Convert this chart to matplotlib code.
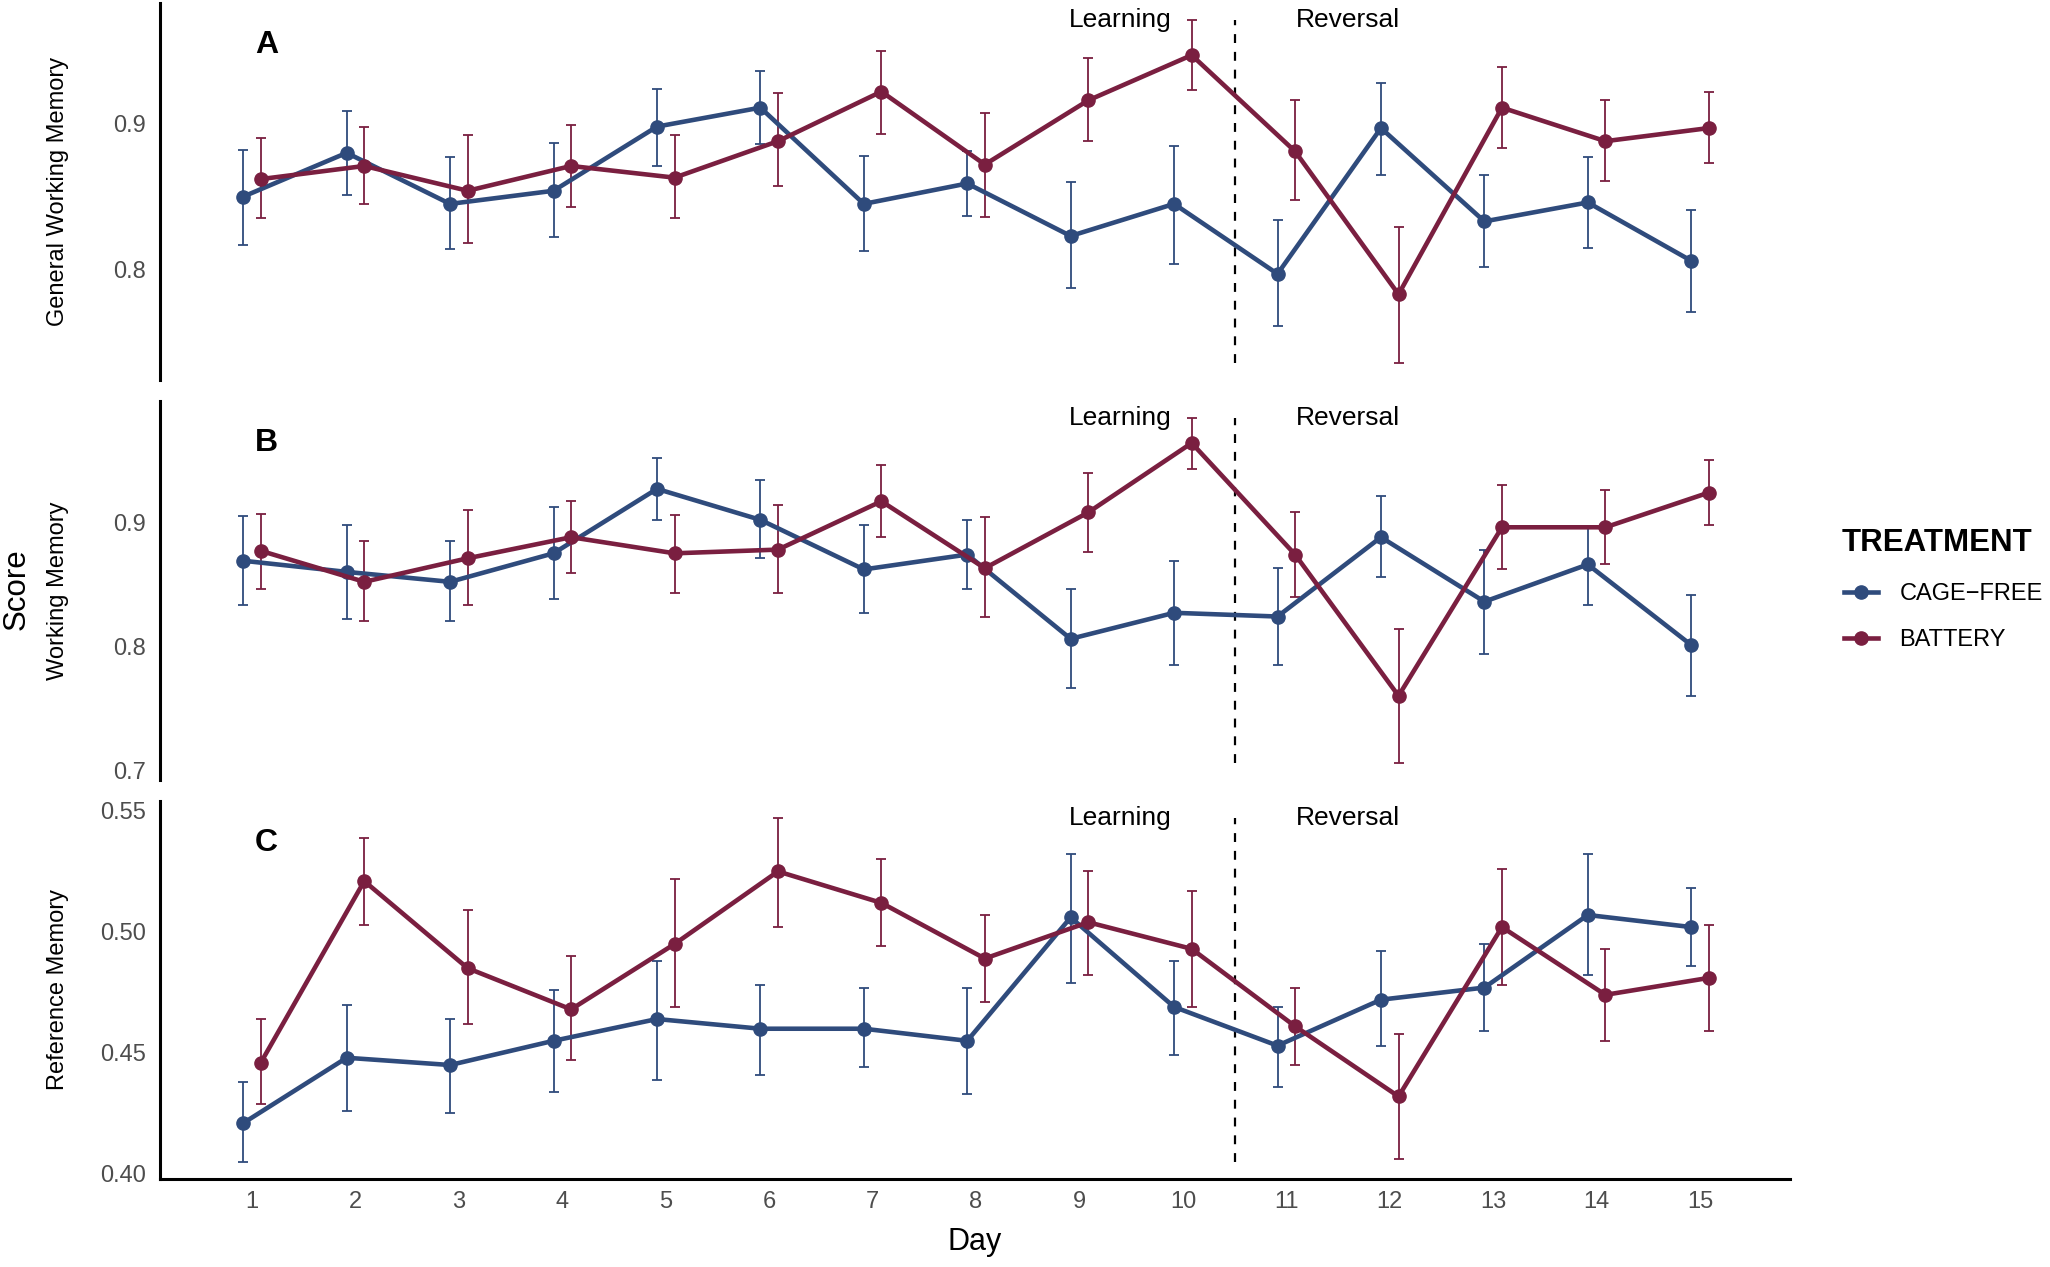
import matplotlib
matplotlib.use("Agg")
import matplotlib.pyplot as plt
import matplotlib.transforms as mtransforms
from matplotlib.lines import Line2D
import numpy as np

plt.rcParams['font.family'] = ['Liberation Sans', 'DejaVu Sans']

days = np.arange(1, 16)
groups = ["CAGE\u2212FREE", "BATTERY"]
colors = ["#2F4B7C", "#7A1F40"]

# Panel A: general working memory (mean, upper, lower)
gwm_cage = [0.850, 0.880, 0.845, 0.854, 0.898, 0.911, 0.845, 0.859, 0.823, 0.845, 0.797, 0.897, 0.833, 0.846, 0.806]
gwm_cage_hi = [0.882, 0.909, 0.877, 0.887, 0.924, 0.936, 0.878, 0.881, 0.860, 0.885, 0.834, 0.928, 0.865, 0.877, 0.841]
gwm_cage_lo = [0.817, 0.851, 0.814, 0.822, 0.871, 0.886, 0.813, 0.837, 0.787, 0.804, 0.761, 0.865, 0.802, 0.815, 0.771]
gwm_batt = [0.862, 0.871, 0.854, 0.871, 0.863, 0.888, 0.922, 0.872, 0.916, 0.947, 0.881, 0.783, 0.911, 0.888, 0.897]
gwm_batt_hi = [0.890, 0.898, 0.892, 0.899, 0.892, 0.921, 0.950, 0.907, 0.945, 0.971, 0.916, 0.829, 0.939, 0.916, 0.922]
gwm_batt_lo = [0.835, 0.845, 0.818, 0.843, 0.835, 0.857, 0.893, 0.836, 0.888, 0.923, 0.848, 0.736, 0.883, 0.861, 0.873]

# Panel B: working memory
wm_cage = [0.869, 0.860, 0.852, 0.875, 0.927, 0.902, 0.862, 0.874, 0.806, 0.827, 0.824, 0.888, 0.836, 0.866, 0.801]
wm_cage_hi = [0.905, 0.898, 0.885, 0.912, 0.952, 0.934, 0.898, 0.902, 0.846, 0.869, 0.863, 0.921, 0.878, 0.897, 0.841]
wm_cage_lo = [0.833, 0.822, 0.820, 0.838, 0.902, 0.871, 0.827, 0.846, 0.766, 0.785, 0.785, 0.856, 0.794, 0.833, 0.760]
wm_batt = [0.877, 0.852, 0.871, 0.888, 0.875, 0.878, 0.917, 0.863, 0.908, 0.964, 0.874, 0.760, 0.896, 0.896, 0.924]
wm_batt_hi = [0.907, 0.885, 0.910, 0.917, 0.906, 0.914, 0.946, 0.904, 0.940, 0.984, 0.908, 0.814, 0.930, 0.926, 0.950]
wm_batt_lo = [0.846, 0.820, 0.833, 0.859, 0.843, 0.843, 0.888, 0.824, 0.876, 0.943, 0.840, 0.706, 0.862, 0.866, 0.898]

# Panel C: reference memory
rm_cage = [0.421, 0.448, 0.445, 0.455, 0.464, 0.460, 0.460, 0.455, 0.506, 0.469, 0.453, 0.472, 0.477, 0.507, 0.502]
rm_cage_hi = [0.438, 0.470, 0.464, 0.476, 0.488, 0.478, 0.477, 0.477, 0.532, 0.488, 0.469, 0.492, 0.495, 0.532, 0.518]
rm_cage_lo = [0.405, 0.426, 0.425, 0.434, 0.439, 0.441, 0.444, 0.433, 0.479, 0.449, 0.436, 0.453, 0.459, 0.482, 0.486]
rm_batt = [0.446, 0.521, 0.485, 0.468, 0.495, 0.525, 0.512, 0.489, 0.504, 0.493, 0.461, 0.432, 0.502, 0.474, 0.481]
rm_batt_hi = [0.464, 0.539, 0.509, 0.490, 0.522, 0.547, 0.530, 0.507, 0.525, 0.517, 0.477, 0.458, 0.526, 0.493, 0.503]
rm_batt_lo = [0.429, 0.503, 0.462, 0.447, 0.469, 0.502, 0.494, 0.471, 0.482, 0.469, 0.445, 0.406, 0.478, 0.455, 0.459]

panels = [
    ("A", "General Working Memory", [0.8, 0.9], "%.1f",
     [(gwm_cage, gwm_cage_hi, gwm_cage_lo), (gwm_batt, gwm_batt_hi, gwm_batt_lo)]),
    ("B", "Working Memory", [0.7, 0.8, 0.9], "%.1f",
     [(wm_cage, wm_cage_hi, wm_cage_lo), (wm_batt, wm_batt_hi, wm_batt_lo)]),
    ("C", "Reference Memory", [0.40, 0.45, 0.50, 0.55], "%.2f",
     [(rm_cage, rm_cage_hi, rm_cage_lo), (rm_batt, rm_batt_hi, rm_batt_lo)]),
]

W, H = 2050, 1267
fig = plt.figure(figsize=(W / 100, H / 100), dpi=100)

ax_left = 160 / W
ax_width = (1790 - 160) / W
ax_rows = [(3, 380), (401, 780), (801, 1179)]
dodge = 0.085
tick_gray = "#4D4D4D"

for i, (letter, ylab, yticks, fmt, series) in enumerate(panels):
    top, bot = ax_rows[i]
    ax = fig.add_axes([ax_left, 1 - bot / H, ax_width, (bot - top) / H])

    lo_all = min(min(s[2]) for s in series)
    hi_all = max(max(s[1]) for s in series)
    pad = 0.05 * (hi_all - lo_all)

    for j, (mean, hi, lo) in enumerate(series):
        mean = np.array(mean)
        x = days + (-dodge if j == 0 else dodge)
        yerr = [mean - np.array(lo), np.array(hi) - mean]
        ax.errorbar(x, mean, yerr=yerr, fmt="none", ecolor=colors[j],
                    elinewidth=1.3, capsize=3.8, capthick=1.3, zorder=2)
    for j, (mean, hi, lo) in enumerate(series):
        x = days + (-dodge if j == 0 else dodge)
        ax.plot(x, mean, color=colors[j], lw=3.3, marker="o", ms=9.5, zorder=3)

    ax.vlines(10.5, lo_all, hi_all, colors="black", linestyles=(0, (4, 4)), lw=1.6, zorder=1)
    ax.text(9.39, hi_all, "Learning", ha="center", va="center", fontsize=19)
    ax.text(11.6, hi_all, "Reversal", ha="center", va="center", fontsize=19)

    trans = mtransforms.blended_transform_factory(ax.transData, ax.transAxes)
    ax.text(1.14, 0.888, letter, transform=trans, ha="center", va="center",
            fontsize=23, fontweight="bold")

    ax.set_xlim(0.11, 15.87)
    ax.set_ylim(lo_all - pad, hi_all + pad)
    ax.set_yticks(yticks)
    ax.set_yticklabels([fmt % v for v in yticks])
    ax.tick_params(axis="y", length=0, pad=10, labelsize=17, labelcolor=tick_gray)

    for s in ["top", "right"]:
        ax.spines[s].set_visible(False)
    ax.spines["left"].set_linewidth(2.2)
    if i < 2:
        ax.spines["bottom"].set_visible(False)
        ax.set_xticks([])
    else:
        ax.spines["bottom"].set_linewidth(2.2)
        ax.set_xticks(days)
        ax.tick_params(axis="x", length=0, pad=9, labelsize=17, labelcolor=tick_gray)

    fig.text(58 / W, 1 - (top + bot) / 2 / H, ylab, rotation=90, ha="center",
             va="center", fontsize=17)

fig.text(17 / W, 1 - 589 / H, "Score", rotation=90, ha="center", va="center", fontsize=22.5)
fig.text(975 / W, 1 - 1242 / H, "Day", ha="center", va="center", fontsize=22)

# legend: title as its own text, entries below
fig.text(1842 / W, 1 - 543 / H, "TREATMENT", ha="left", va="center",
         fontsize=22.5, fontweight="bold")
handles = [Line2D([], [], color=c, lw=3.3, marker="o", ms=9.5) for c in colors]
fig.legend(handles, groups, loc="upper left", bbox_to_anchor=(1844 / W, 1 - 583 / H),
           frameon=False, fontsize=17, handlelength=1.45, handletextpad=0.9,
           labelspacing=1.02, borderpad=0, borderaxespad=0)

fig.savefig("out.png", dpi=100)
